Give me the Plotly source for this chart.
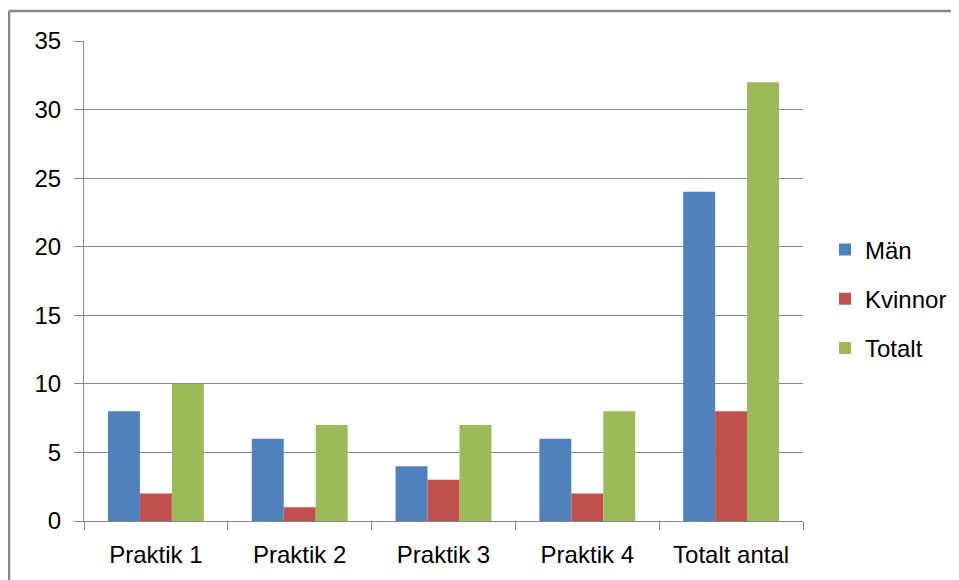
import plotly.graph_objects as go

categories = ["Praktik 1", "Praktik 2", "Praktik 3", "Praktik 4", "Totalt antal"]
man = [8, 6, 4, 6, 24]
kvinnor = [2, 1, 3, 2, 8]
totalt = [10, 7, 7, 8, 32]
series_names = ["Män", "Kvinnor", "Totalt"]
colors = ["#4F81BD", "#C0504D", "#9BBB59"]

FONT = "Liberation Sans"
fig = go.Figure()
for i, (name, vals, col) in enumerate(zip(series_names, [man, kvinnor, totalt], colors)):
    fig.add_trace(go.Bar(x=categories, y=vals, name=name, marker=dict(color=col, line=dict(width=0)),
                         legendgroup=f"g{i}"))

# page body has an 8px margin; lay out in screen coordinates
OFF = 8
W, H = 959, 580
ml, mt = 84 - OFF, 41 - OFF
pw, ph = 719, 480
mr = W - ml - pw
mb = H - mt - ph

def px2x(p):
    return (p - OFF - ml) / pw

def py2y(p):
    return (mt + ph - (p - OFF)) / ph

fig.update_layout(
    width=W, height=H,
    margin=dict(l=ml, r=mr, t=mt, b=mb, autoexpand=False),
    paper_bgcolor="white", plot_bgcolor="white",
    barmode="group", bargap=1/3, bargroupgap=0,
    font=dict(family=FONT, size=24, color="#000000"),
    showlegend=True,
    legend=dict(x=px2x(825), xanchor="left", y=py2y(299), yanchor="middle",
                font=dict(family=FONT, size=24, color="#000000"),
                traceorder="grouped", tracegroupgap=15, bgcolor="rgba(0,0,0,0)"),
    xaxis=dict(showline=True, linecolor="#868686", linewidth=1, ticks="outside", tickson="boundaries",
               ticklen=8, tickcolor="#868686", showgrid=False, tickfont=dict(size=24),
               ticklabelstandoff=12),
    yaxis=dict(range=[0, 35], dtick=5, showline=True, linecolor="#868686", linewidth=1,
               ticks="outside", ticklen=9, tickcolor="#868686", showgrid=True, gridcolor="#868686",
               gridwidth=1, zeroline=False, tickfont=dict(size=24), ticklabelstandoff=8),
    shapes=[
        dict(type="line", xref="paper", yref="paper", x0=px2x(9), x1=px2x(975), y0=py2y(11), y1=py2y(11),
             line=dict(color="#868686", width=2.5)),
        dict(type="line", xref="paper", yref="paper", x0=px2x(9), x1=px2x(9), y0=py2y(11), y1=py2y(600),
             line=dict(color="#868686", width=2.5)),
    ],
)

fig.write_html("out.html")
